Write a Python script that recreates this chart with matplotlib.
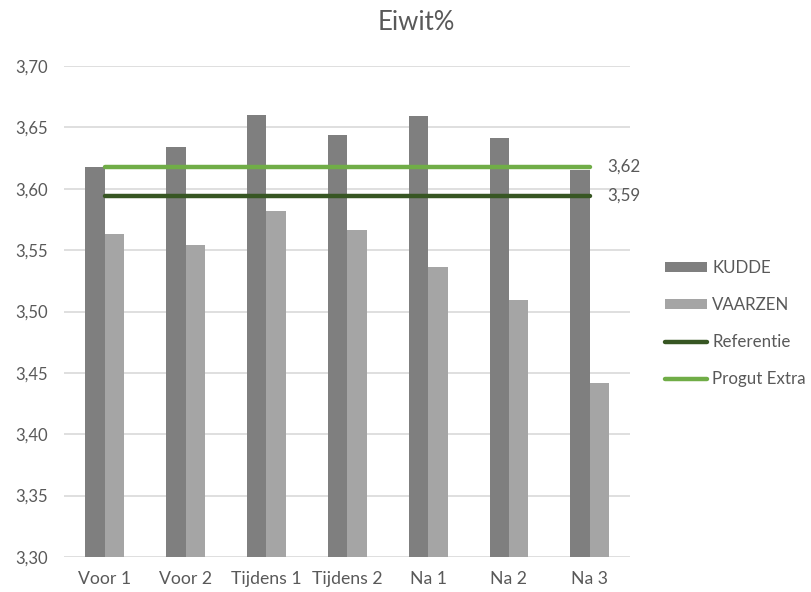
import matplotlib
matplotlib.use("Agg")
import matplotlib.pyplot as plt
from matplotlib.patches import Patch
from matplotlib.lines import Line2D
import numpy as np

categories = ["Voor 1", "Voor 2", "Tijdens 1", "Tijdens 2", "Na 1", "Na 2", "Na 3"]
kudde = [3.618, 3.634, 3.660, 3.644, 3.659, 3.641, 3.615]
vaarzen = [3.563, 3.554, 3.582, 3.566, 3.536, 3.509, 3.442]
referentie = 3.594
progut_extra = 3.618
yticks = [3.30, 3.35, 3.40, 3.45, 3.50, 3.55, 3.60, 3.65, 3.70]

plt.rcParams['font.family'] = ['Lato', 'DejaVu Sans']
txt = '#595959'

fig = plt.figure(figsize=(8.12, 5.92), dpi=100)
ax = fig.add_axes([64.4/812, 1-557/592, (630.2-64.4)/812, (557-66)/592])

x = np.arange(len(categories))
w = 0.24
c_k = '#7f7f7f'
c_v = '#a5a5a5'
c_r = '#375623'
c_p = '#70ad47'
ax.bar(x - w/2, [k - 3.30 for k in kudde], w, bottom=3.30, color=c_k, zorder=3)
ax.bar(x + w/2, [v - 3.30 for v in vaarzen], w, bottom=3.30, color=c_v, zorder=3)
ax.plot([x[0], x[-1]], [referentie, referentie], color=c_r, lw=3.2, solid_capstyle='round', zorder=4)
ax.plot([x[0], x[-1]], [progut_extra, progut_extra], color=c_p, lw=3.2, solid_capstyle='round', zorder=4)

for val in (progut_extra, referentie):
    ax.annotate(f"{val:.2f}".replace('.', ','), xy=(x[-1], val), xytext=(12.5, 0),
                textcoords='offset points', va='center', ha='left', fontsize=12.2, color=txt)

ax.set_xlim(-0.5, len(categories) - 0.5)
ax.set_ylim(3.30, 3.70)
ax.set_yticks(yticks)
ax.set_yticklabels([f"{t:.2f}".replace('.', ',') for t in yticks])
ax.set_xticks(x)
ax.set_xticklabels(categories)
ax.tick_params(axis='both', length=0, labelcolor=txt)
ax.tick_params(axis='y', pad=12, labelsize=12)
ax.tick_params(axis='x', pad=10, labelsize=12.7)
ax.grid(axis='y', color='#d9d9d9', lw=1.2, zorder=0)
for s in ax.spines.values():
    s.set_visible(False)
ax.set_axisbelow(True)

fig.text(416/812, 1-23/592, "Eiwit%", ha='center', va='center', fontsize=18.5, color=txt)

handles = [Patch(facecolor=c_k, label='KUDDE'),
           Patch(facecolor=c_v, label='VAARZEN'),
           Line2D([], [], color=c_r, lw=3.2, solid_capstyle='round', label='Referentie'),
           Line2D([], [], color=c_p, lw=3.2, solid_capstyle='round', label='Progut Extra')]
leg = fig.legend(handles=handles, loc='center left', bbox_to_anchor=(658/812, 1-323.5/592),
                 frameon=False, fontsize=12.2, handlelength=2.5, handleheight=0.55,
                 handletextpad=0.3, labelspacing=1.25, borderaxespad=0)
for t in leg.get_texts():
    t.set_color(txt)

fig.savefig("out.png", dpi=100)
